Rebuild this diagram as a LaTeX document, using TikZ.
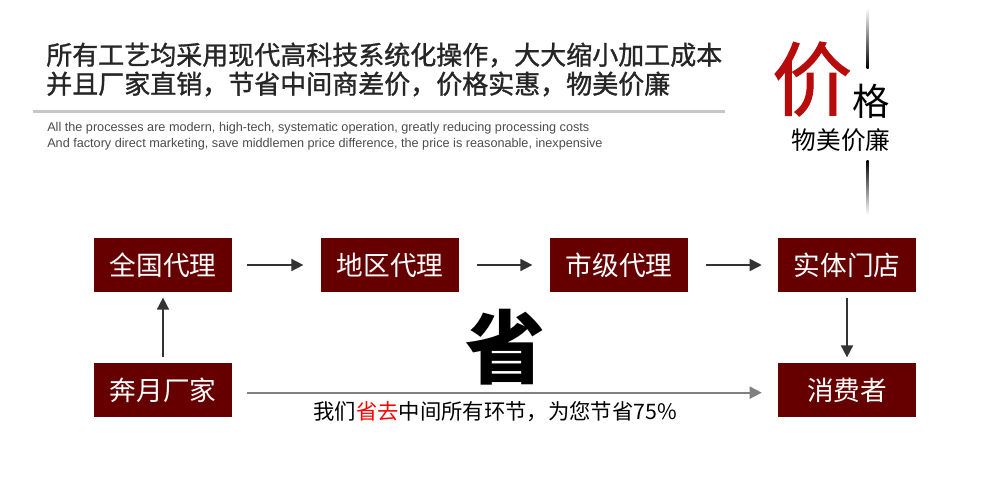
\documentclass[tikz,border=0pt]{standalone}
\usepackage{fontspec}
\usepackage{tikz}
\usetikzlibrary{arrows.meta}
\newfontfamily\cjk{Noto Sans CJK SC}
\newfontfamily\cjkmid[FakeBold=1.2]{Noto Sans CJK SC}
\setmainfont{Liberation Sans}
\definecolor{maroon}{HTML}{660000}
\definecolor{pricered}{HTML}{B80C0C}
\definecolor{arrowgray}{HTML}{333333}

\begin{document}
\begin{tikzpicture}[x=0.75pt,y=-0.75pt]
	\tikzstyle{every node}+=[inner sep=0pt]
	\tikzstyle{stage}=[fill=maroon, text=white, minimum width=103.5pt, minimum height=40.5pt, font=\cjk\fontsize{20}{20}\selectfont]
	\tikzstyle{flow}=[draw=arrowgray, line width=1.2pt, -{Triangle[length=9pt,width=9pt]}]
	\useasboundingbox (0,0) rectangle (990,479);
	% header
	\node[anchor=west, font=\cjkmid\fontsize{19.5}{19.5}\selectfont, text=black!85] (head1) at (46,55) {所有工艺均采用现代高科技系统化操作，大大缩小加工成本};
	\node[anchor=west, font=\cjkmid\fontsize{19.5}{19.5}\selectfont, text=black!85] (head2) at (46,84) {并且厂家直销，节省中间商差价，价格实惠，物美价廉};
	\fill[black!22] (33,109.5) rectangle (725,113);
	\node[anchor=west, font=\fontsize{9.5}{9.5}\selectfont, text=black!70] (eng1) at (47,128) {All the processes are modern, high-tech, systematic operation, greatly reducing processing costs};
	\node[anchor=west, font=\fontsize{9.5}{9.5}\selectfont, text=black!70] (eng2) at (47,144) {And factory direct marketing, save middlemen price difference, the price is reasonable, inexpensive};
	% price corner
	\shade[top color=white, bottom color=black] (866.5,8) rectangle (868.5,68);
	\shade[top color=black, bottom color=white] (866.5,160) rectangle (868.5,215);
	\node[font=\cjkmid\fontsize{60}{60}\selectfont, text=pricered] (jia) at (812,79) {价};
	\node[font=\cjk\fontsize{28}{28}\selectfont] (ge) at (871,101) {格};
	\node[font=\cjk\fontsize{18.5}{18.5}\selectfont] (wmjl) at (841,140) {物美价廉};
	% stages
	\node[stage] (national) at (163,265) {全国代理};
	\node[stage] (regional) at (390,265) {地区代理};
	\node[stage] (city) at (619,265) {市级代理};
	\node[stage] (store) at (847,265) {实体门店};
	\node[stage] (factory) at (163,390) {奔月厂家};
	\node[stage] (consumer) at (847,390) {消费者};
	\draw[flow] ([xshift=11pt]national.east) -- ([xshift=-13pt]regional.west);
	\draw[flow] ([xshift=13pt]regional.east) -- ([xshift=-13pt]city.west);
	\draw[flow] ([xshift=13pt]city.east) -- ([xshift=-12pt]store.west);
	\draw[flow] ([yshift=4pt]factory.north) -- ([yshift=-4pt]national.south);
	\draw[flow] ([yshift=-4pt]store.south) -- ([yshift=4pt]consumer.north);
	\draw[flow, draw=black!50, line width=1.4pt] ([xshift=11pt,yshift=-2pt]factory.east) -- ([xshift=-12pt,yshift=-2pt]consumer.west);
	% saving
	\node[font=\cjk\bfseries\fontsize{60}{60}\selectfont] (sheng) at (505,347) {省};
	\node[font=\cjk\fontsize{16}{16}\selectfont] (save) at (495,412) {我们\textcolor{red}{省去}中间所有环节，为您节省75\%};
\end{tikzpicture}
\end{document}
